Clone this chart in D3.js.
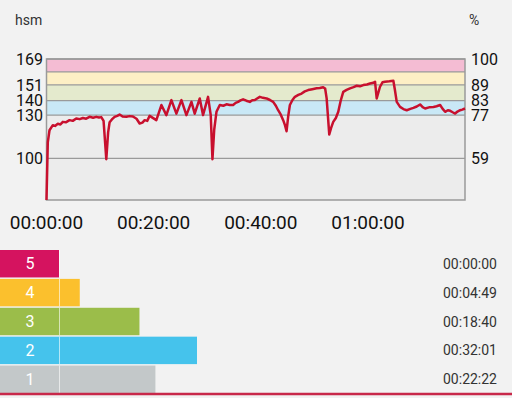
<!DOCTYPE html>
<html lang="en">
<head>
    <meta charset="UTF-8">
    <title>Heart rate</title>
    <script src="https://d3js.org/d3.v7.min.js"></script>
    <style type="text/css">
        body {
            margin: 0;
            background-color: #f2f2f2;
            font-family: Roboto, "Noto Sans", sans-serif;
        }
        .axis-label {
            fill: #111;
            font-size: 16px;
        }
        .time-label {
            fill: #111;
            font-size: 19px;
            text-anchor: middle;
        }
        .unit {
            fill: #333;
            font-size: 14px;
        }
        .zone-num {
            fill: #fff;
            font-size: 16px;
            text-anchor: middle;
        }
        .zone-time {
            fill: #333;
            font-size: 14px;
            text-anchor: end;
        }
        .hr-line {
            fill: none;
            stroke: #c8102e;
            stroke-width: 2.5px;
            stroke-linejoin: round;
        }
    </style>
</head>
<body>
    <script type="text/javascript">
        //CONSTANTS & GLOBALS
        const width = 512;
        const height = 398;

        //DATA - heart rate samples (minutes, bpm)
        const hrMinutes = [0, 0.24, 0.56, 1.18, 1.6, 2.11, 2.6, 3.05, 3.6, 4.3, 4.9, 5.55, 6.2, 6.79, 7.4, 8.04, 8.7, 9.29, 9.8, 10.22, 10.65, 11.16, 11.5, 11.78, 12.2, 12.71, 13.2, 13.64, 14.2, 14.9, 15.5, 16.13, 16.8, 17.38, 17.9, 18.32, 18.8, 19.25,
            20.5, 21.44, 22.37, 23.31, 24.24, 25.18, 26.11, 27.05, 27.66, 28.6, 29.21, 30.15, 30.65, 30.97, 31.3, 31.72, 32.34, 33.0, 33.59, 34.2, 34.82, 35.3, 35.76, 36.2, 36.69, 37.3, 37.94, 38.4, 38.88, 39.3, 39.81,
            40.4, 41.07, 41.7, 42.3, 42.8, 43.23, 43.7, 44.17, 44.5, 44.8, 45.1, 45.42, 45.9, 46.36, 47.0, 47.61, 48.2, 48.84, 49.6, 50.41, 51.0, 51.64, 52.0, 52.28, 52.77, 53.1, 53.51, 54.0, 54.45, 54.9, 55.38, 56.0, 56.64, 57.3, 57.89, 58.5, 59.12,
            59.8, 60.37, 61.0, 61.31, 61.62, 62.24, 62.7, 63.18, 64.0, 64.73, 65.0, 65.36, 65.98, 66.6, 67.23, 67.9, 68.47, 69.1, 69.72, 70.2, 70.65, 71.4, 72.21, 72.8, 73.46, 73.9, 74.39, 74.9, 75.33, 75.8, 76.26, 76.7, 77.2, 77.6, 78.1];
        const hrValues = [71, 111, 119.5, 123, 122.5, 124, 123.5, 125.3, 125, 126.5, 126, 127.7, 127.2, 128, 127.5, 128.8, 128.2, 128.8, 128.3, 128.6, 126, 99.3, 118, 125, 127, 128.8, 129.5, 130.4, 129, 128.8, 129.3, 129, 127.5, 124.2, 124.8, 126.5, 126, 129.5,
            126.5, 137, 130, 140.4, 131, 140.4, 130, 139.2, 131, 141.6, 130, 142.7, 130, 99.3, 120, 132.3, 137, 136.5, 137.5, 137, 137, 138.5, 139.2, 140.2, 141, 140, 139.2, 140.4, 140.5, 141.5, 142.7,
            142, 141.6, 140.5, 139.2, 136.5, 133.4, 130.5, 126.5, 123, 118.8, 129, 137, 140.5, 142.7, 144, 145, 146.5, 147.4, 148, 148.6, 148.8, 149.3, 148.5, 141.6, 116.5, 121, 125.3, 128, 132.3, 140, 146.2, 147.5, 148.6, 149.5, 150.4, 150, 150.9,
            151.3, 152, 152.5, 153.2, 141.6, 149.7, 152.8, 153.2, 153.5, 153.9, 148, 139.2, 135.7, 134.2, 133.4, 134.3, 135, 136, 137.4, 135.5, 134.6, 135.4, 135.7, 136.2, 137, 134.5, 132.3, 133.4, 133, 132, 131.1, 132.5, 133.4, 133.8, 134.6];

        //ZONE BANDS (bpm) AND AXIS TICKS
        const bandEdges = [71, 130, 140, 151, 160, 169];
        const bandColors = ["#ececec", "#c9e8f6", "#e4eacd", "#fdefc5", "#f4bcd3"];
        const hrTicks = [169, 151, 140, 130, 100];
        const pctTicks = [100, 89, 83, 77, 59];
        const gridLines = [169, 160, 151, 140, 130, 100];
        const timeTicks = [0, 20, 40, 60];
        const timeTickLabels = ["00:00:00", "00:20:00", "00:40:00", "01:00:00"];

        //ZONE SUMMARY
        const zoneNames = ["5", "4", "3", "2", "1"];
        const zoneSeconds = [0, 289, 1120, 1921, 1342];
        const zoneLabels = ["00:00:00", "00:04:49", "00:18:40", "00:32:01", "00:22:22"];
        const zoneColors = ["#d5135f", "#fbc02d", "#9bbd4a", "#45c3ec", "#c3c8c9"];

        const data = hrMinutes.map((m, i) => ({ t: m, hr: hrValues[i] }));

        //CREATE SVG
        const svg = d3.select("body")
            .append("svg")
            .attr("width", width)
            .attr("height", height);

        //SCALES
        const plot = { left: 46.5, right: 465, top: 59, bottom: 200 };

        const xScale = d3.scaleLinear()
            .domain([0, 78.1])
            .range([plot.left, plot.right]);

        const yScale = d3.scaleLinear()
            .domain([71, 169])
            .range([plot.bottom, plot.top]);

        //UNITS
        svg.append("text").attr("class", "unit").attr("x", 15).attr("y", 25).text("hsm");
        svg.append("text").attr("class", "unit").attr("x", 469).attr("y", 25).text("%");

        //ZONE BANDS
        svg.selectAll(".band")
            .data(bandColors)
            .join("rect")
            .attr("class", "band")
            .attr("x", plot.left)
            .attr("width", plot.right - plot.left)
            .attr("y", (d, i) => yScale(bandEdges[i + 1]))
            .attr("height", (d, i) => yScale(bandEdges[i]) - yScale(bandEdges[i + 1]))
            .attr("fill", d => d);

        //GRID LINES
        svg.selectAll(".grid")
            .data(gridLines)
            .join("line")
            .attr("class", "grid")
            .attr("x1", plot.left)
            .attr("x2", plot.right)
            .attr("y1", d => yScale(d))
            .attr("y2", d => yScale(d))
            .attr("stroke", "#9a9a9a")
            .attr("stroke-width", 1.3);

        //FRAME
        svg.append("rect")
            .attr("x", plot.left)
            .attr("y", plot.top)
            .attr("width", plot.right - plot.left)
            .attr("height", plot.bottom - plot.top)
            .attr("fill", "none")
            .attr("stroke", "#9a9a9a")
            .attr("stroke-width", 1.5);

        //LEFT AXIS LABELS (bpm)
        svg.selectAll(".hr-tick")
            .data(hrTicks)
            .join("text")
            .attr("class", "axis-label")
            .attr("x", 43)
            .attr("y", d => yScale(d))
            .attr("dy", "0.36em")
            .attr("text-anchor", "end")
            .text(d => d);

        //RIGHT AXIS LABELS (%)
        svg.selectAll(".pct-tick")
            .data(pctTicks)
            .join("text")
            .attr("class", "axis-label")
            .attr("x", 471)
            .attr("y", (d, i) => yScale(hrTicks[i]))
            .attr("dy", "0.36em")
            .text(d => d);

        //HEART RATE LINE
        const line = d3.line()
            .x(d => xScale(d.t))
            .y(d => yScale(d.hr));

        svg.append("path")
            .attr("class", "hr-line")
            .attr("d", line(data));

        //TIME LABELS
        svg.selectAll(".time-label")
            .data(timeTicks)
            .join("text")
            .attr("class", "time-label")
            .attr("x", d => xScale(d))
            .attr("y", 229)
            .text((d, i) => timeTickLabels[i]);

        //ZONE BARS
        const rowScale = d3.scaleBand()
            .domain(zoneNames)
            .range([250, 393])
            .paddingInner(0.05);

        const barScale = d3.scaleLinear()
            .domain([0, d3.max(zoneSeconds)])
            .range([59, 197]);

        const rows = svg.selectAll(".row")
            .data(zoneNames)
            .join("g")
            .attr("class", "row")
            .attr("transform", d => "translate(0," + rowScale(d) + ")");

        rows.append("rect")
            .attr("x", 0)
            .attr("width", (d, i) => barScale(zoneSeconds[i]))
            .attr("height", rowScale.bandwidth())
            .attr("fill", (d, i) => zoneColors[i]);

        //divider between number cell and bar
        rows.append("line")
            .attr("x1", 59.5).attr("x2", 59.5)
            .attr("y1", 0).attr("y2", rowScale.bandwidth())
            .attr("stroke", "#ffffff")
            .attr("stroke-opacity", 0.6)
            .attr("stroke-width", 1);

        rows.append("text")
            .attr("class", "zone-num")
            .attr("x", 30)
            .attr("y", rowScale.bandwidth() / 2)
            .attr("dy", "0.36em")
            .text(d => d);

        rows.append("text")
            .attr("class", "zone-time")
            .attr("x", 497)
            .attr("y", rowScale.bandwidth() / 2)
            .attr("dy", "0.36em")
            .text((d, i) => zoneLabels[i]);

        //BOTTOM RULE
        svg.append("line")
            .attr("x1", 0).attr("x2", width)
            .attr("y1", 394).attr("y2", 394)
            .attr("stroke", "#c8284a")
            .attr("stroke-width", 2.5);
    </script>
</body>
</html>
